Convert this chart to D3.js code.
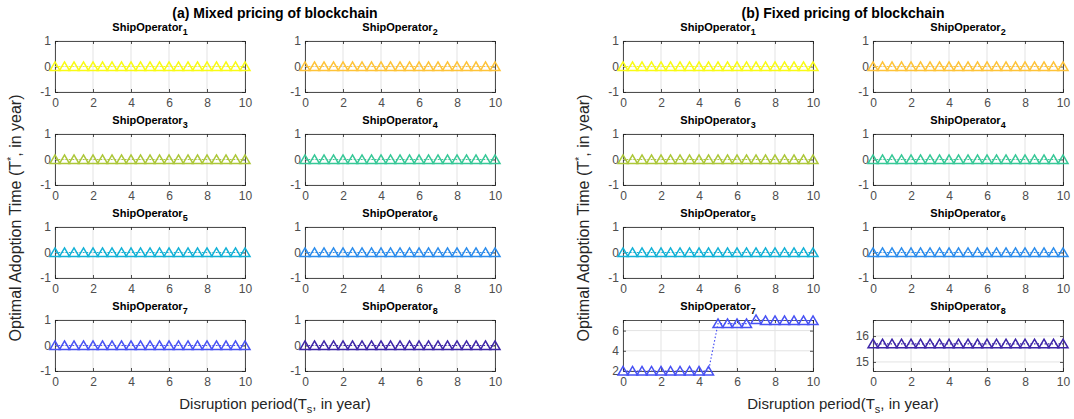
<!DOCTYPE html>
<html>
<head>
<meta charset="utf-8">
<script src="https://cdn.jsdelivr.net/npm/d3@7"></script>
<style>
  html, body { margin: 0; padding: 0; background: #ffffff; }
  svg { display: block; font-family: "Liberation Sans", Arial, Helvetica, sans-serif; }
</style>
</head>
<body>
<svg id="chart" width="1074" height="419"></svg>
<script>
// Disruption period sampling (years)
const periods = [0, 0.5, 1, 1.5, 2, 2.5, 3, 3.5, 4, 4.5, 5, 5.5, 6, 6.5, 7, 7.5, 8, 8.5, 9, 9.5, 10];
const xTicks = [0, 2, 4, 6, 8, 10];

const operators = ["1", "2", "3", "4", "5", "6", "7", "8"];
const panelTitles = ["(a) Mixed pricing of blockchain", "(b) Fixed pricing of blockchain"];

// Operator colours (parula, reversed)
const operatorColors = ["#f9fb14", "#fec338", "#acc739", "#37c897", "#12b1d6", "#2b8cec", "#4852f4", "#3e26a8"];

// Optimal adoption time, mixed pricing
const zeros = [0, 0, 0, 0, 0, 0, 0, 0, 0, 0, 0, 0, 0, 0, 0, 0, 0, 0, 0, 0, 0];
const mixedSeries = [zeros, zeros, zeros, zeros, zeros, zeros, zeros, zeros];

// Optimal adoption time, fixed pricing
const fixedOp7 = [2, 2, 2, 2, 2, 2, 2, 2, 2, 2, 6.7, 6.7, 6.7, 6.7, 7.1, 7, 7, 7, 7, 7, 7];
const fixedOp8 = [15.7, 15.7, 15.7, 15.7, 15.7, 15.7, 15.7, 15.7, 15.7, 15.7, 15.7, 15.7, 15.7, 15.7, 15.7, 15.7, 15.7, 15.7, 15.7, 15.7, 15.7];
const fixedSeries = [zeros, zeros, zeros, zeros, zeros, zeros, fixedOp7, fixedOp8];

// y limits and ticks per operator panel
const defaultLimits = [-1, 1];
const defaultTicks = [-1, 0, 1];
const mixedLimits = [defaultLimits, defaultLimits, defaultLimits, defaultLimits, defaultLimits, defaultLimits, defaultLimits, defaultLimits];
const mixedTicks = [defaultTicks, defaultTicks, defaultTicks, defaultTicks, defaultTicks, defaultTicks, defaultTicks, defaultTicks];
const fixedLimits = [defaultLimits, defaultLimits, defaultLimits, defaultLimits, defaultLimits, defaultLimits, [2, 7.05], [14.65, 16.62]];
const fixedTicks = [defaultTicks, defaultTicks, defaultTicks, defaultTicks, defaultTicks, defaultTicks, [2, 4, 6], [15, 16]];

const groups = [
  { title: panelTitles[0], series: mixedSeries, limits: mixedLimits, ticks: mixedTicks, left: 55 },
  { title: panelTitles[1], series: fixedSeries, limits: fixedLimits, ticks: fixedTicks, left: 623 }
];

// Layout
const panelW = 190, panelH = 51, colGap = 250, rowTop = 41, rowStep = 93;
const axisColor = "#262626", tickTextColor = "#4d4d4d", gridColor = "#e3e3e3";

const svg = d3.select("#chart");

const x = d3.scaleLinear().domain([0, 10]).range([0, panelW]);
const triangle = "M0,-4.6L5,4L-5,4Z";
const plainNumber = d => String(d);

groups.forEach(group => {
  const groupWidth = colGap + panelW;
  const gcx = group.left + groupWidth / 2;

  // Group title
  svg.append("text")
    .attr("x", gcx).attr("y", 18)
    .attr("text-anchor", "middle")
    .attr("font-size", 14).attr("font-weight", "bold").attr("fill", "#000")
    .text(group.title);

  // x-axis label
  const xl = svg.append("text")
    .attr("x", gcx).attr("y", 409)
    .attr("text-anchor", "middle")
    .attr("font-size", 15).attr("fill", "#262626");
  xl.append("tspan").text("Disruption period(T");
  xl.append("tspan").attr("font-size", 11).attr("dy", 4).text("s");
  xl.append("tspan").attr("dy", -4).text(", in year)");

  // y-axis label
  const ycx = group.left - 34, ycy = 218;
  const yl = svg.append("text")
    .attr("transform", `translate(${ycx},${ycy}) rotate(-90)`)
    .attr("text-anchor", "middle")
    .attr("font-size", 16).attr("fill", "#262626");
  yl.append("tspan").text("Optimal Adoption Time (T");
  yl.append("tspan").attr("font-size", 11).attr("dy", -6).text("*");
  yl.append("tspan").attr("dy", 6).text(", in year)");

  operators.forEach((op, i) => {
    const col = i % 2, row = Math.floor(i / 2);
    const px = group.left + col * colGap;
    const py = rowTop + row * rowStep;
    const g = svg.append("g").attr("transform", `translate(${px},${py})`);
    const y = d3.scaleLinear().domain(group.limits[i]).range([panelH, 0]);
    const yt = group.ticks[i];
    const color = operatorColors[i];

    // grid
    g.append("g").selectAll("line").data(xTicks).join("line")
      .attr("x1", d => x(d)).attr("x2", d => x(d))
      .attr("y1", 0).attr("y2", panelH)
      .attr("stroke", gridColor).attr("stroke-width", 1);
    g.append("g").selectAll("line").data(yt).join("line")
      .attr("x1", 0).attr("x2", panelW)
      .attr("y1", d => y(d)).attr("y2", d => y(d))
      .attr("stroke", gridColor).attr("stroke-width", 1);

    // axes (ticks inside)
    const xAxisB = d3.axisBottom(x).tickValues(xTicks).tickSize(-3).tickPadding(6).tickFormat(plainNumber);
    const xAxisT = d3.axisTop(x).tickValues(xTicks).tickSize(-3).tickFormat("");
    const yAxisL = d3.axisLeft(y).tickValues(yt).tickSize(-3).tickPadding(4).tickFormat(plainNumber);
    const yAxisR = d3.axisRight(y).tickValues(yt).tickSize(-3).tickFormat("");

    const styleAxis = sel => {
      sel.selectAll("path").attr("stroke", axisColor).attr("stroke-width", 0.8);
      sel.selectAll("line").attr("stroke", axisColor).attr("stroke-width", 0.8);
      sel.selectAll("text").attr("fill", tickTextColor).attr("font-size", 12)
        .attr("font-family", "'Liberation Sans', Arial, sans-serif");
    };
    g.append("g").attr("transform", `translate(0,${panelH})`).call(xAxisB).call(styleAxis);
    g.append("g").call(xAxisT).call(styleAxis);
    g.append("g").call(yAxisL).call(styleAxis);
    g.append("g").attr("transform", `translate(${panelW},0)`).call(yAxisR).call(styleAxis);

    // data: dotted line with triangle markers
    const values = group.series[i];
    const pts = periods.map((p, k) => [p, values[k]]);
    const line = d3.line().x(d => x(d[0])).y(d => y(d[1]));
    g.append("path").datum(pts)
      .attr("d", line)
      .attr("fill", "none").attr("stroke", color)
      .attr("stroke-width", 1.2).attr("stroke-dasharray", "1.5,2");
    g.append("g").selectAll("path").data(pts).join("path")
      .attr("d", triangle)
      .attr("transform", d => `translate(${x(d[0])},${y(d[1])})`)
      .attr("fill", "none").attr("stroke", color).attr("stroke-width", 1.5)
      .attr("stroke-linejoin", "miter");

    // subplot title
    const t = svg.append("text")
      .attr("x", px + panelW / 2).attr("y", py - 10)
      .attr("text-anchor", "middle")
      .attr("font-size", 11).attr("font-weight", "bold").attr("fill", "#000");
    t.append("tspan").text("ShipOperator");
    t.append("tspan").attr("font-size", 9).attr("dy", 4).text(op);
  });
});
</script>
</body>
</html>
